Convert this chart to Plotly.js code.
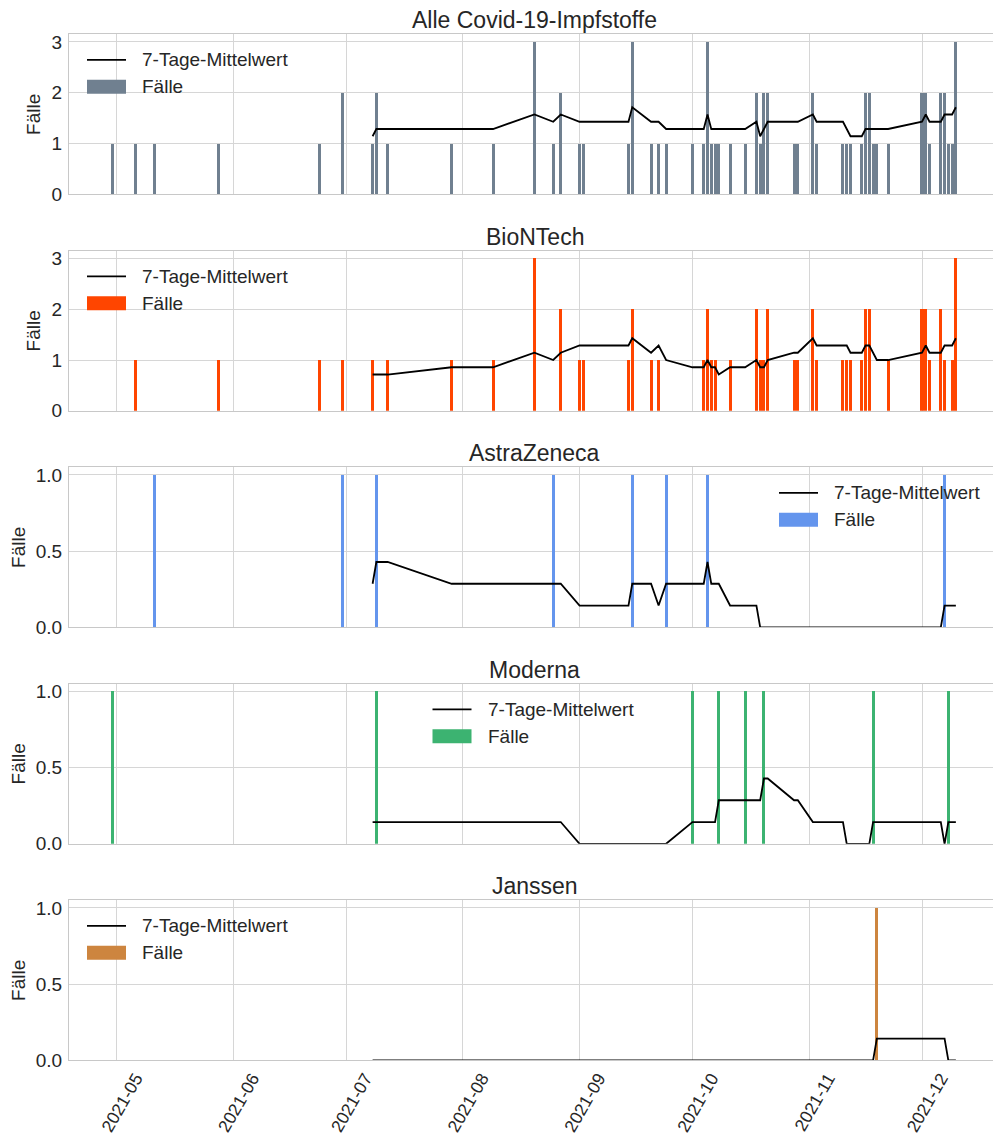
<!DOCTYPE html>
<html>
<head>
<meta charset="utf-8">
<script src="https://cdn.plot.ly/plotly-3.0.1.min.js"></script>
<style>
html,body{margin:0;padding:0;overflow:hidden;background:#fff;}
#chart{width:1000px;height:1136px;}
</style>
</head>
<body>
<div id="chart"></div>
<script>
// ---- data ----
const dates = ['2021-04-30','2021-05-06','2021-05-11','2021-05-28','2021-06-24','2021-06-30','2021-07-08','2021-07-09','2021-07-12','2021-07-29',
 '2021-08-09','2021-08-20','2021-08-25','2021-08-27','2021-09-01','2021-09-02','2021-09-14','2021-09-15','2021-09-20','2021-09-22',
 '2021-09-24','2021-10-01','2021-10-04','2021-10-05','2021-10-06','2021-10-07','2021-10-08','2021-10-11','2021-10-15','2021-10-18',
 '2021-10-19','2021-10-20','2021-10-21','2021-10-28','2021-10-29','2021-11-02','2021-11-03','2021-11-10','2021-11-11','2021-11-12',
 '2021-11-15','2021-11-16','2021-11-17','2021-11-18','2021-11-19','2021-11-22','2021-12-01','2021-12-02','2021-12-03','2021-12-06',
 '2021-12-07','2021-12-08','2021-12-09','2021-12-10'];
const allVaccines = [1,1,1,1,1,2,1,2,1,1, 1,3,1,2,1,1,1,3,1,1, 1,1,1,3,1,1,1,1,1,2, 1,2,2,1,1,2,1,1,1,1, 1,2,2,1,1,1,2,2,1,2, 2,1,1,3];
const biontech    = [0,1,0,1,1,1,1,0,1,1, 1,3,0,2,1,1,1,2,1,1, 0,0,1,2,1,1,0,1,0,2, 1,1,2,1,1,2,1,1,1,1, 1,2,2,0,0,1,2,2,1,2, 1,0,1,3];
const astrazeneca = [0,0,1,0,0,1,0,1,0,0, 0,0,1,0,0,0,0,1,0,0, 1,0,0,1,0,0,0,0,0,0, 0,0,0,0,0,0,0,0,0,0, 0,0,0,0,0,0,0,0,0,0, 1,0,0,0];
const moderna     = [1,0,0,0,0,0,0,1,0,0, 0,0,0,0,0,0,0,0,0,0, 0,1,0,0,0,0,1,0,1,0, 0,1,0,0,0,0,0,0,0,0, 0,0,0,1,0,0,0,0,0,0, 0,1,0,0];
const janssen     = [0,0,0,0,0,0,0,0,0,0, 0,0,0,0,0,0,0,0,0,0, 0,0,0,0,0,0,0,0,0,0, 0,0,0,0,0,0,0,0,0,0, 0,0,0,0,1,0,0,0,0,0, 0,0,0,0];
const panelTitles = ['Alle Covid-19-Impfstoffe','BioNTech','AstraZeneca','Moderna','Janssen'];
const lineName = '7-Tage-Mittelwert';
const barName = 'Fälle';
const yLabel = 'Fälle';

// ---- styling ----
const series = [allVaccines, biontech, astrazeneca, moderna, janssen];
const colors = ['#708090','#FF4500','#6495ED','#3CB371','#CD853F'];
const W = 1000, H = 1136, L = 69;
const bottoms = [194.3, 410.8, 627.3, 843.8, 1060.3];
const PH = 160;
const legendLeft = [87, 87, 779, 432.5, 87];
const FONT = 'Liberation Sans, Arial, sans-serif';
const TXT = '#262626';
const px2x = p => (p - L) / (W - L);
const py2y = p => (H - p) / H;

// 7-row rolling mean (the chart's "7-Tage-Mittelwert")
function rolling7(arr){
  const out = [];
  for (let i = 6; i < arr.length; i++){
    let s = 0; for (let k = i-6; k <= i; k++) s += arr[k];
    out.push(s/7);
  }
  return out;
}

const data = [];
const layout = {
  width: W, height: H,
  margin: {l: L, r: 0, t: 0, b: 0, autoexpand: false},
  paper_bgcolor: '#fff', plot_bgcolor: '#fff',
  font: {family: FONT, color: TXT, size: 19},
  showlegend: false,
  bargap: 0,
  annotations: [], shapes: []
};
const dayMs = 86400000;

series.forEach((vals, i) => {
  const xa = i === 0 ? 'x' : 'x' + (i+1);
  const ya = i === 0 ? 'y' : 'y' + (i+1);
  data.push({
    type: 'bar', x: dates, y: vals, xaxis: xa, yaxis: ya,
    width: dates.map(() => 0.8*dayMs),
    marker: {color: colors[i], line: {width: 0}},
    name: barName, hoverinfo: 'x+y'
  });
  data.push({
    type: 'scatter', mode: 'lines', x: dates.slice(6), y: rolling7(vals),
    xaxis: xa, yaxis: ya, line: {color: '#000', width: 1.8},
    name: lineName
  });
  const bottom = bottoms[i], top = bottom - PH;
  const big = i < 2;
  const xkey = i === 0 ? 'xaxis' : 'xaxis' + (i+1);
  const ykey = i === 0 ? 'yaxis' : 'yaxis' + (i+1);
  layout[xkey] = {
    domain: [0, 1], anchor: ya, type: 'date',
    range: ['2021-04-18 07:40', '2021-12-21 17:30'],
    tick0: '2021-05-01', dtick: 'M1', tickformat: '%Y-%m',
    showticklabels: i === 4, tickangle: -60,
    ticklabelshift: 19, ticklabelstandoff: 0,
    tickfont: {size: 17.5, color: TXT},
    showgrid: true, gridcolor: '#d6d6d6', gridwidth: 1,
    showline: true, mirror: true, linecolor: '#c8c8c8', linewidth: 1,
    zeroline: false, ticks: '', automargin: false
  };
  if (i > 0) layout[xkey].matches = 'x';
  layout[ykey] = {
    domain: [py2y(bottom), py2y(top)], anchor: xa,
    range: big ? [0, 3.15] : [0, 1.05],
    tickvals: big ? [0,1,2,3] : [0,0.5,1],
    tickformat: big ? 'd' : '.1f',
    tickfont: {size: 19, color: TXT},
    ticklabelstandoff: 2,
    showgrid: true, gridcolor: '#d6d6d6', gridwidth: 1,
    showline: true, mirror: true, linecolor: '#c8c8c8', linewidth: 1,
    zeroline: false, ticks: '',
    title: {text: yLabel, font: {size: 19, color: TXT}, standoff: 5},
    automargin: true, fixedrange: true
  };
  // panel title
  layout.annotations.push({
    text: panelTitles[i], xref: 'paper', yref: 'paper',
    x: 0.5, y: py2y(top), xanchor: 'center', yanchor: 'bottom', yshift: -1,
    showarrow: false, font: {size: 23, color: TXT, family: FONT}
  });
  // legend (drawn like the reference: line handle + wide patch)
  const lx = legendLeft[i];
  layout.shapes.push({
    type: 'line', xref: 'paper', yref: 'paper',
    x0: px2x(lx), x1: px2x(lx + 39), y0: py2y(top + 25.5), y1: py2y(top + 25.5),
    line: {color: '#000', width: 1.8}
  });
  layout.shapes.push({
    type: 'rect', xref: 'paper', yref: 'paper',
    x0: px2x(lx), x1: px2x(lx + 39), y0: py2y(top + 59.5), y1: py2y(top + 45.5),
    fillcolor: colors[i], line: {width: 0}
  });
  layout.annotations.push({
    text: lineName, xref: 'paper', yref: 'paper',
    x: px2x(lx + 53), y: py2y(top + 25.5), xanchor: 'left', yanchor: 'middle',
    showarrow: false, font: {size: 19, color: TXT, family: FONT}
  });
  layout.annotations.push({
    text: barName, xref: 'paper', yref: 'paper',
    x: px2x(lx + 53), y: py2y(top + 52.5), xanchor: 'left', yanchor: 'middle',
    showarrow: false, font: {size: 19, color: TXT, family: FONT}
  });
});

Plotly.newPlot('chart', data, layout, {staticPlot: true, displayModeBar: false});
</script>
</body>
</html>
